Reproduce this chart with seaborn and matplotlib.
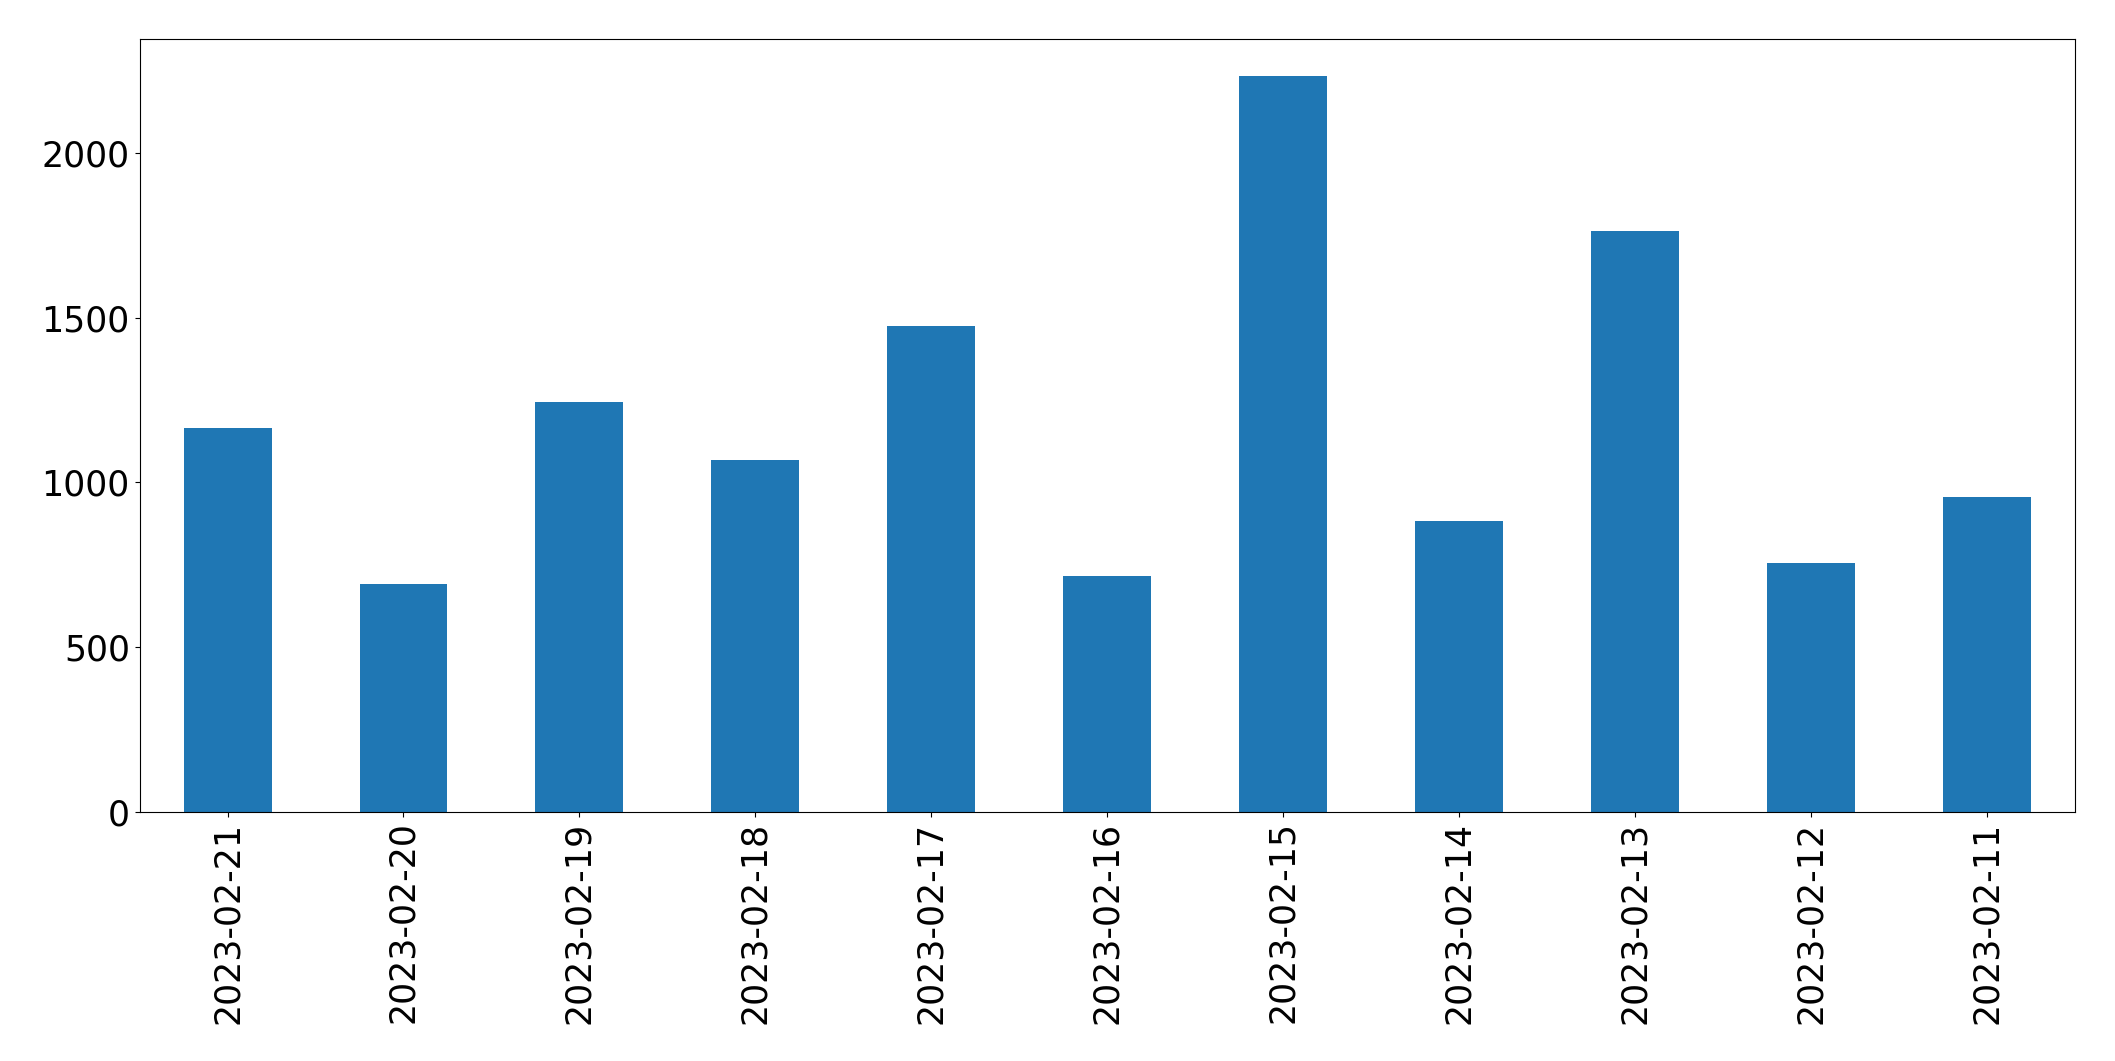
import pandas as pd
import seaborn as sns
import matplotlib.pyplot as plt

dates = ["2023-02-21", "2023-02-20", "2023-02-19", "2023-02-18", "2023-02-17",
         "2023-02-16", "2023-02-15", "2023-02-14", "2023-02-13", "2023-02-12",
         "2023-02-11"]
counts = [1166, 690, 1244, 1068, 1474, 715, 2234, 883, 1762, 756, 957]

df = pd.DataFrame({"date": dates, "count": counts})

fig, ax = plt.subplots(figsize=(21.15, 10.61), dpi=100)
sns.barplot(data=df, x="date", y="count", color="#1f77b4", saturation=1,
            width=0.5, order=dates, linewidth=0, ax=ax)

ax.set_xlim(-0.5, len(dates) - 0.5)
ax.set_ylim(0, max(counts) * 1.05)
ax.set_xlabel(None)
ax.set_ylabel(None)
ax.tick_params(axis="both", labelsize=25)
ax.tick_params(axis="x", labelrotation=90)

plt.subplots_adjust(left=0.066, right=0.981, top=0.963, bottom=0.235)
plt.savefig("out.png", dpi=100)
